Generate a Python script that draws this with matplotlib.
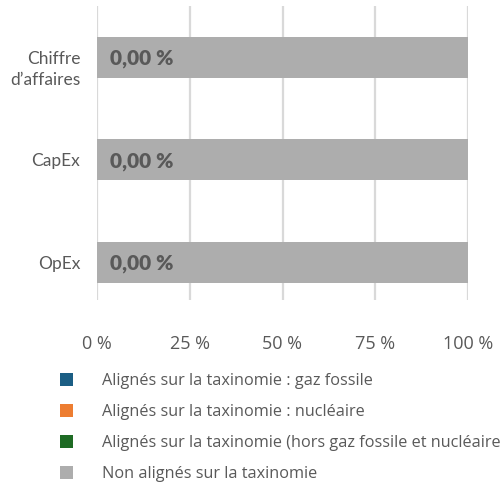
import matplotlib.pyplot as plt
import matplotlib.transforms as mtransforms

plt.rcParams['font.family'] = ['Lato', 'DejaVu Sans']

# data
categories = ["Chiffre\nd\u2019affaires", "CapEx", "OpEx"]
gaz_fossile = [0, 0, 0]
nucleaire = [0, 0, 0]
alignes_hors = [0, 0, 0]
non_alignes = [100, 100, 100]
bar_labels = ["0,00 %", "0,00 %", "0,00 %"]
xticks = [0, 25, 50, 75, 100]
xtick_labels = ["0 %", "25 %", "50 %", "75 %", "100 %"]

series_names = ["Align\u00e9s sur la taxinomie : gaz fossile",
                "Align\u00e9s sur la taxinomie : nucl\u00e9aire",
                "Align\u00e9s sur la taxinomie (hors gaz fossile et nucl\u00e9aire)",
                "Non align\u00e9s sur la taxinomie"]
colors = ["#1b5e84", "#ed7d31", "#1e6b24", "#adadad"]
text_gray = "#595959"

fig = plt.figure(figsize=(5.01, 4.92), dpi=100)
ax = fig.add_axes([97 / 501, 1 - 300 / 492, 371 / 501, 294 / 492])

y = list(range(len(categories)))
left = [0, 0, 0]
handles = []
for vals, name, c in zip([gaz_fossile, nucleaire, alignes_hors, non_alignes], series_names, colors):
    h = ax.barh(y, vals, left=left, height=0.4, color=c, label=name, zorder=3)
    handles.append(h)
    left = [a + b for a, b in zip(left, vals)]

for yi, lab in zip(y, bar_labels):
    ax.annotate(lab, xy=(gaz_fossile[yi], yi), xytext=(9, -1), textcoords="offset points",
                ha="left", va="center", fontsize=15, fontweight="heavy", color=text_gray, zorder=4)

ax.set_xlim(0, 100)
ax.set_ylim(2.366, -0.502)
ax.set_xticks(xticks)
ax.set_xticklabels(xtick_labels, family=["Open Sans", "DejaVu Sans"])
ax.set_yticks(y)
ax.set_yticklabels(categories, linespacing=1.35)
ax.grid(axis="x", color="#d9d9d9", linewidth=1.6, zorder=0)
ax.tick_params(axis="x", length=0, pad=25, labelsize=13, labelcolor=text_gray)
ax.tick_params(axis="y", length=0, pad=12, labelsize=12.5, labelcolor=text_gray)
for s in ax.spines.values():
    s.set_visible(False)

# two-line label sits a bit lower in the original
lbl = ax.get_yticklabels()[0]
lbl.set_transform(lbl.get_transform() + mtransforms.ScaledTranslation(0, -8 / 100, fig.dpi_scale_trans))

fig.legend(handles=handles, labels=series_names, loc="upper left",
           bbox_to_anchor=(60 / 501, 1 - 373 / 492), frameon=False,
           prop={"family": ["Open Sans", "DejaVu Sans"], "size": 11.7},
           labelcolor=text_gray, handlelength=0.8, handleheight=0.8, handletextpad=1.78,
           labelspacing=0.93, borderpad=0, borderaxespad=0)

fig.savefig("out.png", dpi=100)
